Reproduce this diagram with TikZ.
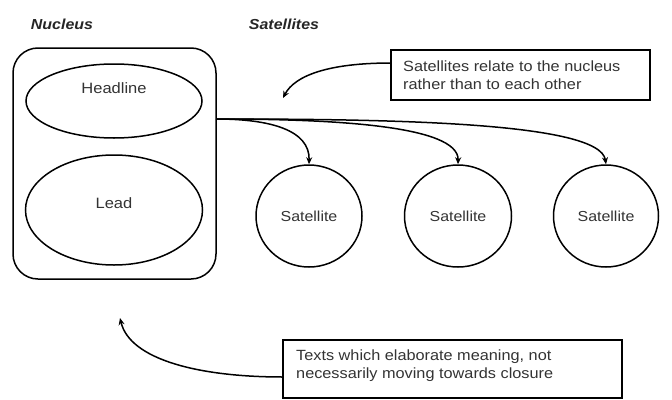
\documentclass[tikz,border=0pt]{standalone}
\usepackage{fontspec}
\setmainfont{Liberation Sans}[FakeStretch=1.1]
\usetikzlibrary{shapes.geometric,arrows.meta}
\tikzset{
  line/.style={line width=1.5pt, draw=black},
  oval/.style={ellipse, line, inner sep=0pt, font=\fontsize{14.5}{17}\selectfont, text=black!80},
  callout/.style={draw=black, line width=2.4pt, inner sep=0pt},
  calltext/.style={align=left, anchor=north west, inner sep=0pt, font=\fontsize{14.8}{17.5}\selectfont, text=black!80},
  heading/.style={font=\fontsize{14.5}{17}\selectfont\bfseries\itshape, text=black!85},
  arr/.style={line, -{Stealth[length=7pt,width=6pt]}},
}
\begin{document}
\begin{tikzpicture}[x=1pt,y=-1pt]
\useasboundingbox (0,0) rectangle (672,399);
% headings
\node[heading] (nuclab) at (62,24) {Nucleus};
\node[heading] (satlab) at (284,24) {Satellites};
% nucleus box
\draw[line, rounded corners=25pt] (13,48) rectangle (216,279);
\node[oval, minimum width=176pt, minimum height=74pt] (head) at (114,101) {};
\node[font=\fontsize{15}{17}\selectfont, text=black!80] (headtxt) at (114,88) {Headline};
\node[oval, minimum width=177pt, minimum height=110pt] (lead) at (114,210) {};
\node[font=\fontsize{15}{17}\selectfont, text=black!80] (leadtxt) at (114,203) {Lead};
\coordinate (hub) at (216,119);
% satellites
\node[oval, minimum width=106pt, minimum height=102pt] (s1) at (309,216) {Satellite};
\node[oval, minimum width=107pt, minimum height=102pt] (s2) at (458,216) {Satellite};
\node[oval, minimum width=105pt, minimum height=102pt] (s3) at (606,216) {Satellite};
\draw[arr] (hub) .. controls (270,119) and (310,130) .. (s1.north);
\draw[arr] (hub) .. controls (330,119) and (459,125) .. (s2.north);
\draw[arr] (hub) .. controls (390,119) and (600,122) .. (s3.north);
% top callout
\draw[callout] (391,50) rectangle (650,100);
\node[calltext] (toptxt) at (403,61) {Satellites relate to the nucleus\\rather than to each other};
\coordinate (topin) at (391,63);
\coordinate (toptip) at (283,98);
\draw[arr] (topin) .. controls (330,63) and (295,75) .. (toptip);
% bottom callout
\draw[callout] (283,340) rectangle (622,398);
\node[calltext] (bottxt) at (296,350) {Texts which elaborate meaning, not\\necessarily moving towards closure};
\coordinate (botin) at (283,377);
\coordinate (bottip) at (120,318);
\draw[arr] (botin) .. controls (200,377) and (130,360) .. (bottip);
\end{tikzpicture}
\end{document}
